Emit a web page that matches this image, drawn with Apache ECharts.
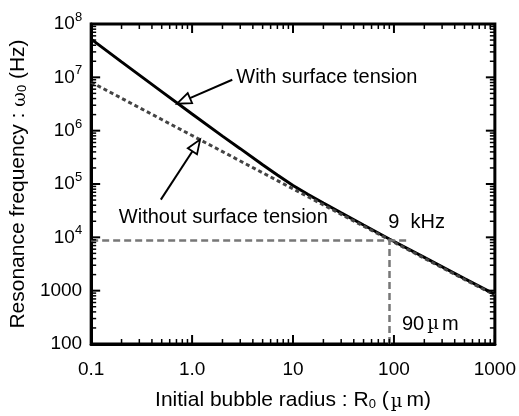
<!DOCTYPE html>
<html>
<head>
<meta charset="utf-8">
<script src="https://cdn.jsdelivr.net/npm/echarts@6/dist/echarts.min.js"></script>
<style>
  html, body { margin: 0; padding: 0; background: #fff; }
  #main { width: 519px; height: 416px; }
</style>
</head>
<body>
<div id="main"></div>
<script>
// Bubble radius (µm) and resonance frequency (Hz)
const radius = [0.1, 0.2, 0.5, 1, 2, 3, 5, 7, 10, 14, 20, 30, 50, 90, 200, 500, 1000];
const withTension = [5.2e7, 1.95e7, 5.4e6, 2.05e6, 7.9e5, 4.6e5, 2.3e5, 1.48e5, 9.4e4, 6.4e4, 4.4e4, 2.88e4, 1.7e4, 9.3e3, 4.2e3, 1.68e3, 850];
const withoutTension = [8.1e6, 4.05e6, 1.62e6, 8.1e5, 4.05e5, 2.7e5, 1.62e5, 1.16e5, 8.1e4, 5.8e4, 4.05e4, 2.7e4, 1.62e4, 9.0e3, 4.05e3, 1.62e3, 830];

// Tick labels, one per decade
const xTickText = ['0.1', '1.0', '10', '100', '1000'];
const yTickText = ['100', '1000', '{b|10}{s|4}', '{b|10}{s|5}', '{b|10}{s|6}', '{b|10}{s|7}', '{b|10}{s|8}'];

// Reference point: 9 kHz at 90 µm
const refFreq = 9000;
const refRadius = 90;
const refLineEnd = 143;

const X_MIN = 0.1, X_MAX = 1000, Y_MIN = 100, Y_MAX = 1e8;
const FONT = '"Liberation Sans", Arial, sans-serif';

// Decade / sub-decade tick positions for the frame
const xTicks = [];
for (let e = -1; e <= 2; e++) {
  for (let m = 1; m <= 9; m++) xTicks.push([m * Math.pow(10, e), Y_MAX, m === 1 ? 1 : 0]);
}
xTicks.push([X_MAX, Y_MAX, 1]);
const yTicks = [];
for (let e = 2; e <= 7; e++) {
  for (let m = 1; m <= 9; m++) yTicks.push([X_MAX, m * Math.pow(10, e), m === 1 ? 1 : 0]);
}
yTicks.push([X_MAX, Y_MAX, 1]);

const chart = echarts.init(document.getElementById('main'));

function tickLine(x1, y1, x2, y2, major) {
  return { type: 'line', shape: { x1, y1, x2, y2 }, style: { stroke: '#000', lineWidth: major ? 2 : 1.5 } };
}

chart.setOption({
  animation: false,
  grid: { left: 89, right: 21, top: 24, bottom: 71, show: true, borderColor: '#000', borderWidth: 3 },
  xAxis: {
    type: 'log', logBase: 10, min: X_MIN, max: X_MAX,
    axisLine: { lineStyle: { color: '#000', width: 3 } },
    axisTick: { show: false },
    splitLine: { show: false },
    axisLabel: {
      color: '#000', fontSize: 19, fontFamily: FONT, margin: 16,
      formatter: v => xTickText[Math.round(Math.log10(v)) + 1]
    },
    name: '{a|Initial bubble radius : R}{s|0}{a| (}{u|µ}{a|m)}',
    nameLocation: 'middle', nameGap: 41,
    nameTextStyle: {
      rich: {
        a: { fontSize: 21, fontFamily: FONT, color: '#000', lineHeight: 26, verticalAlign: 'bottom' },
        s: { fontSize: 13, fontFamily: FONT, color: '#000', lineHeight: 13, verticalAlign: 'bottom' },
        u: { fontSize: 18, fontFamily: '"DejaVu Serif", serif', color: '#000', lineHeight: 26, verticalAlign: 'bottom', padding: [0, 4, 0, 2] }
      }
    }
  },
  yAxis: {
    type: 'log', logBase: 10, min: Y_MIN, max: Y_MAX,
    axisLine: { lineStyle: { color: '#000', width: 3 } },
    axisTick: { show: false },
    splitLine: { show: false },
    axisLabel: {
      color: '#000', fontSize: 19, fontFamily: FONT, margin: 9,
      formatter: v => yTickText[Math.round(Math.log10(v)) - 2],
      rich: {
        b: { fontSize: 19, fontFamily: FONT, color: '#000', lineHeight: 26 },
        s: { fontSize: 13, fontFamily: FONT, color: '#000', lineHeight: 13, verticalAlign: 'top' }
      }
    },
    name: '{a|Resonance frequency : }{w|ω}{s|0}{a| (Hz)}',
    nameLocation: 'middle', nameGap: 56,
    nameTextStyle: {
      rich: {
        a: { fontSize: 21, fontFamily: FONT, color: '#000', lineHeight: 26, verticalAlign: 'bottom' },
        w: { fontSize: 18, fontFamily: '"DejaVu Serif", serif', color: '#000', lineHeight: 24, verticalAlign: 'bottom' },
        s: { fontSize: 13, fontFamily: FONT, color: '#000', lineHeight: 14, verticalAlign: 'bottom' }
      }
    }
  },
  series: [
    {
      name: 'With surface tension', type: 'line', symbol: 'none',
      data: radius.map((r, i) => [r, withTension[i]]),
      lineStyle: { color: '#000', width: 3 }, z: 3
    },
    {
      name: 'Without surface tension', type: 'line', symbol: 'none',
      data: radius.map((r, i) => [r, withoutTension[i]]),
      lineStyle: { color: '#444', width: 3, type: [4, 3] }, z: 4
    },
    {
      type: 'line', data: [], symbol: 'none', silent: true,
      markLine: {
        silent: true, symbol: 'none', label: { show: false },
        lineStyle: { color: '#777', width: 2.5, type: [7, 4] },
        data: [
          [{ coord: [X_MIN, refFreq] }, { coord: [refLineEnd, refFreq] }],
          [{ coord: [refRadius, Y_MIN] }, { coord: [refRadius, refFreq] }]
        ]
      }
    },
    {
      type: 'custom', silent: true, z: 10, clip: false,
      data: xTicks,
      renderItem: (params, api) => {
        const v = api.value(0), major = api.value(2);
        const len = major ? 9 : 5;
        const b = api.coord([v, Y_MIN]), t = api.coord([v, Y_MAX]);
        return { type: 'group', children: [
          tickLine(b[0], b[1], b[0], b[1] - len, major),
          tickLine(t[0], t[1], t[0], t[1] + len, major)
        ] };
      }
    },
    {
      type: 'custom', silent: true, z: 10, clip: false,
      data: yTicks,
      renderItem: (params, api) => {
        const v = api.value(1), major = api.value(2);
        const len = major ? 9 : 5;
        const l = api.coord([X_MIN, v]), r = api.coord([X_MAX, v]);
        return { type: 'group', children: [
          tickLine(l[0], l[1], l[0] + len, l[1], major),
          tickLine(r[0], r[1], r[0] - len, r[1], major)
        ] };
      }
    }
  ]
});

// Callouts and arrows, anchored to data coordinates
function px(p) { return chart.convertToPixel({ gridIndex: 0 }, p); }

function arrow(tailData, tipData) {
  const a = px(tailData), b = px(tipData);
  const dx = b[0] - a[0], dy = b[1] - a[1];
  const d = Math.hypot(dx, dy), ux = dx / d, uy = dy / d;
  const L = 14, W = 5.5;
  const bx = b[0] - L * ux, by = b[1] - L * uy;
  return [
    { type: 'line', shape: { x1: a[0], y1: a[1], x2: bx, y2: by }, style: { stroke: '#000', lineWidth: 2 }, z: 20 },
    { type: 'polygon', shape: { points: [[b[0], b[1]], [bx - W * uy, by + W * ux], [bx + W * uy, by - W * ux]] },
      style: { fill: '#fff', stroke: '#000', lineWidth: 1.8 }, z: 20 }
  ];
}

function label(text, at, rich) {
  const p = px(at);
  return { type: 'text', x: p[0], y: p[1], z: 20,
    style: { text, font: '20px ' + FONT, fill: '#000', verticalAlign: 'middle', align: 'left', rich } };
}

chart.setOption({
  graphic: [
    ...arrow([2.5, 9.0e6], [0.71, 3.2e6]),
    ...arrow([0.49, 5.1e4], [1.2, 6.8e5]),
    label('With surface tension', [2.74, 1.0e7]),
    label('Without surface tension', [0.188, 2.37e4]),
    label('9  kHz', [88, 1.9e4]),
    label('{a|90}{u|µ}{a|m}', [120, 237], {
      a: { fontSize: 20, fontFamily: FONT, color: '#000' },
      u: { fontSize: 18, fontFamily: '"DejaVu Serif", serif', color: '#000', padding: [0, 3, 0, 3] }
    })
  ]
});
</script>
</body>
</html>
